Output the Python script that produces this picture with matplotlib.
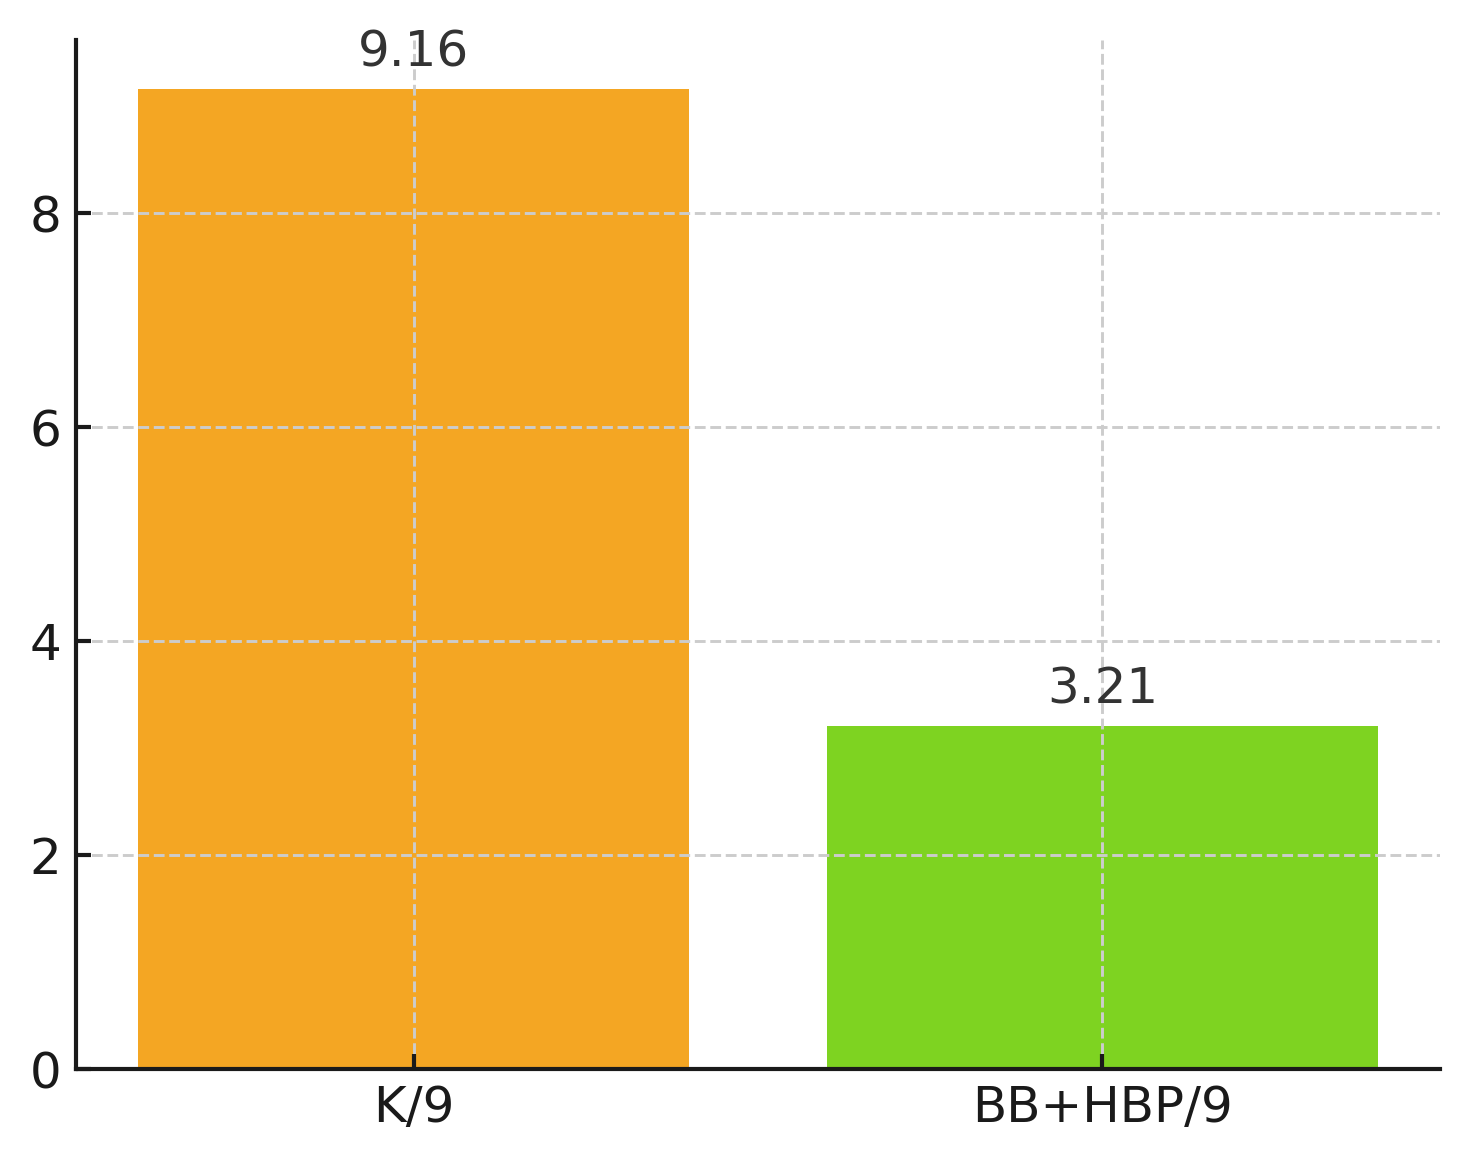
import matplotlib
matplotlib.use("Agg")
import matplotlib.pyplot as plt

# datos
categorias = ["K/9", "BB+HBP/9"]
valores = [9.16, 3.21]
colores = ["#F4A623", "#7ED321"]

fig = plt.figure(figsize=(1469 / 300, 1163 / 300), dpi=300)
ax = fig.add_axes([0.0517, 0.0808, 0.9286, 0.8848])

barras = ax.bar(categorias, valores, color=colores, width=0.8)

for b, v in zip(barras, valores):
    ax.annotate(
        f"{v:.2f}",
        (b.get_x() + b.get_width() / 2, v),
        xytext=(0, 3),
        textcoords="offset points",
        ha="center",
        va="bottom",
        fontsize=12,
        color="#333333",
    )

ax.set_ylim(0, max(valores) * 1.05)
ax.set_yticks([0, 2, 4, 6, 8])

ax.grid(True, linestyle="--", color="#cccccc", linewidth=0.7)
ax.set_axisbelow(False)

ax.spines["top"].set_visible(False)
ax.spines["right"].set_visible(False)
for lado in ["left", "bottom"]:
    ax.spines[lado].set_color("#1a1a1a")
    ax.spines[lado].set_linewidth(1.0)
    ax.spines[lado].set_zorder(4)

ax.tick_params(direction="in", length=3.5, width=1.0, colors="#1a1a1a", labelsize=12)

fig.savefig("out.png", dpi=300)
